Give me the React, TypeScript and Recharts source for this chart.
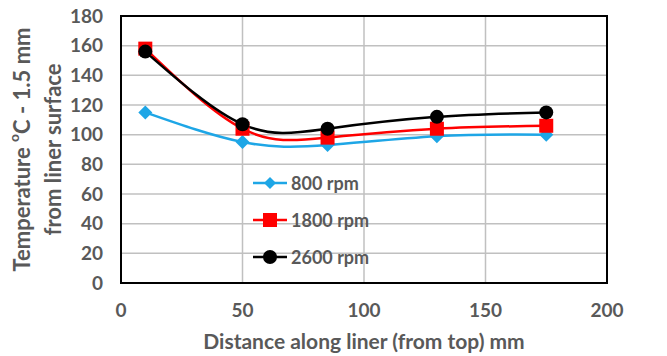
import {
  LineChart,
  Line,
  XAxis,
  YAxis,
  CartesianGrid,
  ReferenceArea,
} from 'recharts';

const distances = [10, 50, 85, 130, 175];
const rpm800 = [115, 95, 93, 99, 100];
const rpm1800 = [158, 104, 98, 104, 106];
const rpm2600 = [156, 107, 104, 112, 115];
const xTicks = [0, 50, 100, 150, 200];
const yTicks = [0, 20, 40, 60, 80, 100, 120, 140, 160, 180];

const seriesNames = ['800 rpm', '1800 rpm', '2600 rpm'];
const seriesColors = ['#1ea6e6', '#ff0000', '#000000'];

const data = distances.map((d, i) => ({
  x: d,
  r800: rpm800[i],
  r1800: rpm1800[i],
  r2600: rpm2600[i],
}));

const FONT = 'Lato, "Open Sans", sans-serif';
const TEXT = '#595959';

function Diamond({ cx, cy, fill, size = 7 }: any) {
  if (cx == null || cy == null) return null;
  return (
    <path
      d={`M${cx},${cy - size} L${cx + size},${cy} L${cx},${cy + size} L${cx - size},${cy} Z`}
      fill={fill}
    />
  );
}

function Square({ cx, cy, fill, size = 7 }: any) {
  if (cx == null || cy == null) return null;
  return <rect x={cx - size} y={cy - size} width={size * 2} height={size * 2} fill={fill} />;
}

function Circle({ cx, cy, fill, r = 7 }: any) {
  if (cx == null || cy == null) return null;
  return <circle cx={cx} cy={cy} r={r} fill={fill} />;
}

function marker(i: number, cx: number, cy: number) {
  if (i === 0) return <Diamond cx={cx} cy={cy} fill={seriesColors[0]} size={6} />;
  if (i === 1) return <Square cx={cx} cy={cy} fill={seriesColors[1]} size={7} />;
  return <Circle cx={cx} cy={cy} fill={seriesColors[2]} r={7} />;
}

// legend sits inside the plot, so it is placed by hand instead of letting recharts reserve space
function LegendBox() {
  return (
    <div
      style={{
        position: 'absolute',
        left: 253,
        top: 164,
        fontFamily: FONT,
        fontWeight: 700,
        fontSize: 18,
        color: TEXT,
      }}
    >
      {seriesNames.map((name, i) => (
        <div key={name} style={{ display: 'flex', alignItems: 'center', height: 37 }}>
          <svg width={36} height={20} style={{ marginRight: 2 }}>
            <line x1={0} y1={10} x2={34} y2={10} stroke={seriesColors[i]} strokeWidth={2.5} />
            {marker(i, 17, 10)}
          </svg>
          <span>{name}</span>
        </div>
      ))}
    </div>
  );
}

const tickStyle = { fontSize: 19, fontWeight: 700, fill: TEXT, fontFamily: FONT };
const titleStyle = { fontSize: 22, fontWeight: 700, fill: TEXT, fontFamily: FONT };

export default function App() {
  return (
    <div style={{ position: 'absolute', left: 0, top: 0, width: 667, height: 356, background: '#fff' }}>
      <LineChart
        width={667}
        height={356}
        data={data}
        margin={{ top: 16, right: 60, left: 0, bottom: 0 }}
      >
        <CartesianGrid stroke="#c0c0c0" strokeWidth={1.5} />
        <XAxis
          dataKey="x"
          type="number"
          domain={[0, 200]}
          ticks={xTicks}
          height={73}
          tickSize={0}
          tickMargin={21}
          axisLine={false}
          tick={tickStyle}
          label={{
            value: 'Distance along liner (from top) mm',
            position: 'insideBottom',
            offset: 7,
            style: { ...titleStyle, fontSize: 21 },
          }}
        />
        <YAxis
          type="number"
          domain={[0, 180]}
          ticks={yTicks}
          width={121}
          tickSize={0}
          tickMargin={18}
          axisLine={false}
          interval={0}
          tick={tickStyle}
          label={(props: any) => {
            const vb = props.viewBox || {};
            const cy = (vb.y ?? 16) + (vb.height ?? 267) / 2;
            return (
              <g>
                <text
                  transform={`translate(21, ${cy}) rotate(-90)`}
                  textAnchor="middle"
                  dominantBaseline="central"
                  style={titleStyle}
                >
                  Temperature <tspan fontSize={14} dy={-8}>o</tspan>
                  <tspan dy={8}>C - 1.5 mm</tspan>
                </text>
                <text
                  transform={`translate(52, ${cy}) rotate(-90)`}
                  textAnchor="middle"
                  dominantBaseline="central"
                  style={titleStyle}
                >
                  from liner surface
                </text>
              </g>
            );
          }}
        />
        <ReferenceArea x1={0} x2={200} y1={0} y2={180} fill="none" stroke="#000" strokeWidth={2} />
        <Line
          dataKey="r800"
          name={seriesNames[0]}
          type="natural"
          stroke={seriesColors[0]}
          strokeWidth={2.5}
          dot={(p: any) => <Diamond key={`d0-${p.index}`} cx={p.cx} cy={p.cy} fill={seriesColors[0]} size={7} />}
          activeDot={false}
          isAnimationActive={false}
        />
        <Line
          dataKey="r1800"
          name={seriesNames[1]}
          type="natural"
          stroke={seriesColors[1]}
          strokeWidth={2.5}
          dot={(p: any) => <Square key={`d1-${p.index}`} cx={p.cx} cy={p.cy} fill={seriesColors[1]} size={7} />}
          activeDot={false}
          isAnimationActive={false}
        />
        <Line
          dataKey="r2600"
          name={seriesNames[2]}
          type="natural"
          stroke={seriesColors[2]}
          strokeWidth={2.5}
          dot={(p: any) => <Circle key={`d2-${p.index}`} cx={p.cx} cy={p.cy} fill={seriesColors[2]} r={7} />}
          activeDot={false}
          isAnimationActive={false}
        />
      </LineChart>
      <LegendBox />
    </div>
  );
}
